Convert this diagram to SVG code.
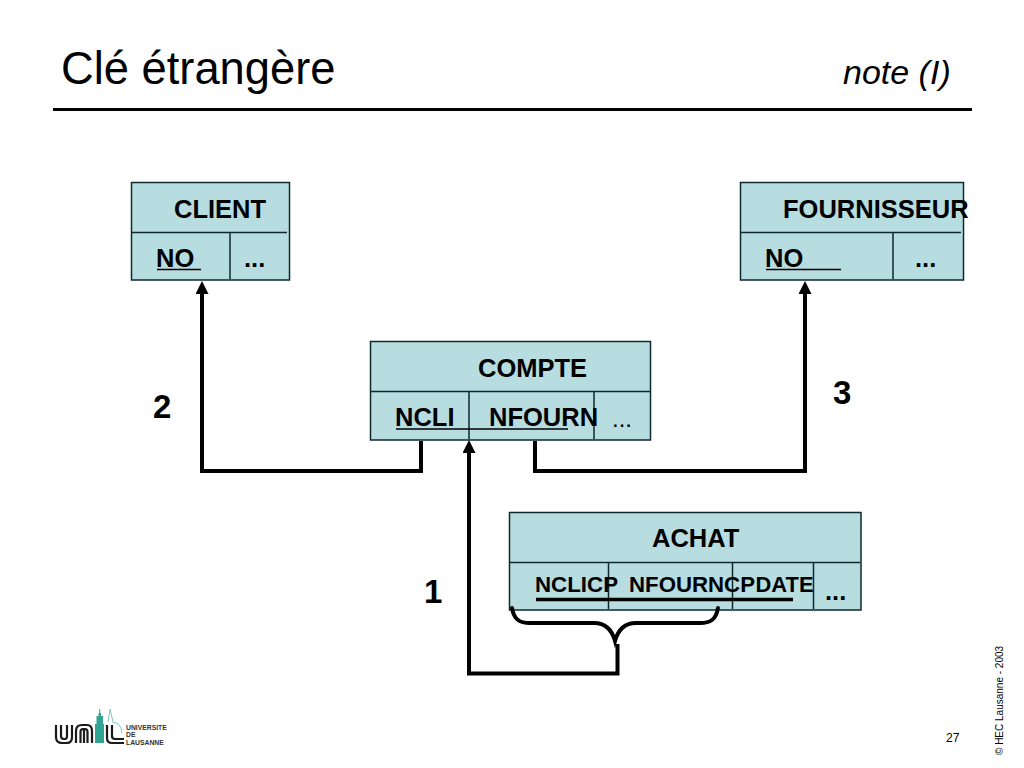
<svg xmlns="http://www.w3.org/2000/svg" width="1024" height="768" viewBox="0 0 1024 768">
<defs>
<marker id="arrow" markerUnits="userSpaceOnUse" markerWidth="13" markerHeight="13" refX="5" refY="6.500" orient="auto" viewBox="0 0 13 13"><path d="M0 0L13 6.500L0 13Z" fill="#000"/></marker>
</defs>
<style>
text{font-family:"Liberation Sans",Arial,sans-serif;fill:#000}
.box{fill:#b7dde1;stroke:#0f2a2e;stroke-width:1.5}
.div{stroke:#0f2a2e;stroke-width:1.5;fill:none}
.t{font-size:25.500px;font-weight:bold}
.f{font-size:22.500px;font-weight:bold}
.u{stroke:#000;stroke-width:1.5;fill:none}
.c{stroke:#000;stroke-width:4;fill:none}
.n{font-size:33px;font-weight:bold}
.l{stroke:#1a1a1a;stroke-width:2.200;fill:none}
.lt{font-size:6.800px;font-weight:bold;fill:#333}
</style>
<rect width="1024" height="768" fill="#fff"/>
<g id="title">
<text x="61" y="84" font-size="45.300">Clé étrangère</text>
<text x="843" y="84" font-size="34" font-style="italic">note (I)</text>
<line x1="53" y1="109.500" x2="972" y2="109.500" stroke="#000" stroke-width="3"/>
</g>
<g id="client">
<rect class="box" x="131.500" y="182.500" width="158" height="97.500"/>
<path class="div" d="M132 232.500H287M230 233V279"/>
<text class="t" x="174" y="218">CLIENT</text>
<text class="t" x="156" y="267">NO</text>
<line class="u" x1="157" y1="269.500" x2="201" y2="269.500"/>
<text class="t" x="244" y="267">...</text>
</g>
<g id="fournisseur">
<rect class="box" x="740.500" y="182.500" width="223" height="97.500"/>
<path class="div" d="M741 232.500H961M893 233V279"/>
<text class="t" x="783" y="218">FOURNISSEUR</text>
<text class="t" x="765" y="267">NO</text>
<line class="u" x1="766" y1="269.500" x2="841" y2="269.500"/>
<text class="t" x="915" y="267">...</text>
</g>
<g id="compte">
<rect class="box" x="370.500" y="341.500" width="280" height="98.500"/>
<path class="div" d="M371 391.500H650M469 392V439M594 392V439"/>
<text class="t" x="478" y="377">COMPTE</text>
<text class="t" x="395" y="426">NCLI</text>
<text class="t" x="489" y="426">NFOURN</text>
<line class="u" x1="396" y1="429" x2="568" y2="429"/>
<text x="612" y="427" font-size="24">...</text>
</g>
<g id="achat">
<rect class="box" x="509.500" y="512.500" width="351.500" height="97.500"/>
<path class="div" d="M510 562.500H860M608.500 563V609M732.500 563V609M813.500 563V609"/>
<text class="t" x="652" y="547">ACHAT</text>
<text class="f" x="535" y="592" textLength="83" lengthAdjust="spacingAndGlyphs">NCLICP</text>
<text class="f" x="629" y="592" textLength="126" lengthAdjust="spacingAndGlyphs">NFOURNCP</text>
<text class="f" x="755.500" y="592" textLength="58" lengthAdjust="spacingAndGlyphs">DATE</text>
<line x1="536" y1="599.500" x2="793" y2="599.500" stroke="#000" stroke-width="3.500"/>
<text class="t" x="825" y="600">...</text>
</g>
<g id="connectors">
<path class="c" d="M421 441V471H202V289" marker-end="url(#arrow)"/>
<path class="c" d="M535 441V471H805V289" marker-end="url(#arrow)"/>
<path class="c" d="M617.500 644V673.500H469V448" marker-end="url(#arrow)"/>
<path class="c" d="M512 608C514 620 520 623 530 623H594C606 623 612 630 615 641C618 630 624 623 636 623H700C710 623 716 620 718 608" stroke-linecap="round"/>
</g>
<g id="labels">
<text class="n" x="153" y="418">2</text>
<text class="n" x="833" y="404">3</text>
<text class="n" x="424" y="603">1</text>
</g>
<g id="footer">
<text x="946" y="742" font-size="12">27</text>
<text transform="translate(1003 755) rotate(-90)" font-size="10" fill="#222">© HEC Lausanne - 2003</text>
</g>
<g id="logo">
<path class="l" d="M56 725V737Q56 743 62 743H67Q72 743 72 737V725M61 725V736Q61 739 64 739H65Q67 739 67 736V725"/>
<path class="l" d="M76 743V731Q76 725 82 725H87Q92 725 92 731V743M80.500 743V732Q80.500 729 83 729H85Q87.500 729 87.500 732V743M84 730V743"/>
<path d="M95 743V724H96.500V716H98.500V713H99.200V709H100.200V713H101V716H103V724H104V743Z" fill="#2fa592"/>
<path class="l" d="M107 725V738Q107 743 112 743H124"/>
<path class="l" d="M112 725V736Q112 739 115 739H124"/>
<path d="M108 722L110 709L113 722Q121 723 122 733" fill="none" stroke="#7fc7bb" stroke-width="1"/>
<text class="lt" x="126" y="730">UNIVERSITE</text>
<text class="lt" x="126" y="737">DE</text>
<text class="lt" x="126" y="745">LAUSANNE</text>
</g>
</svg>
